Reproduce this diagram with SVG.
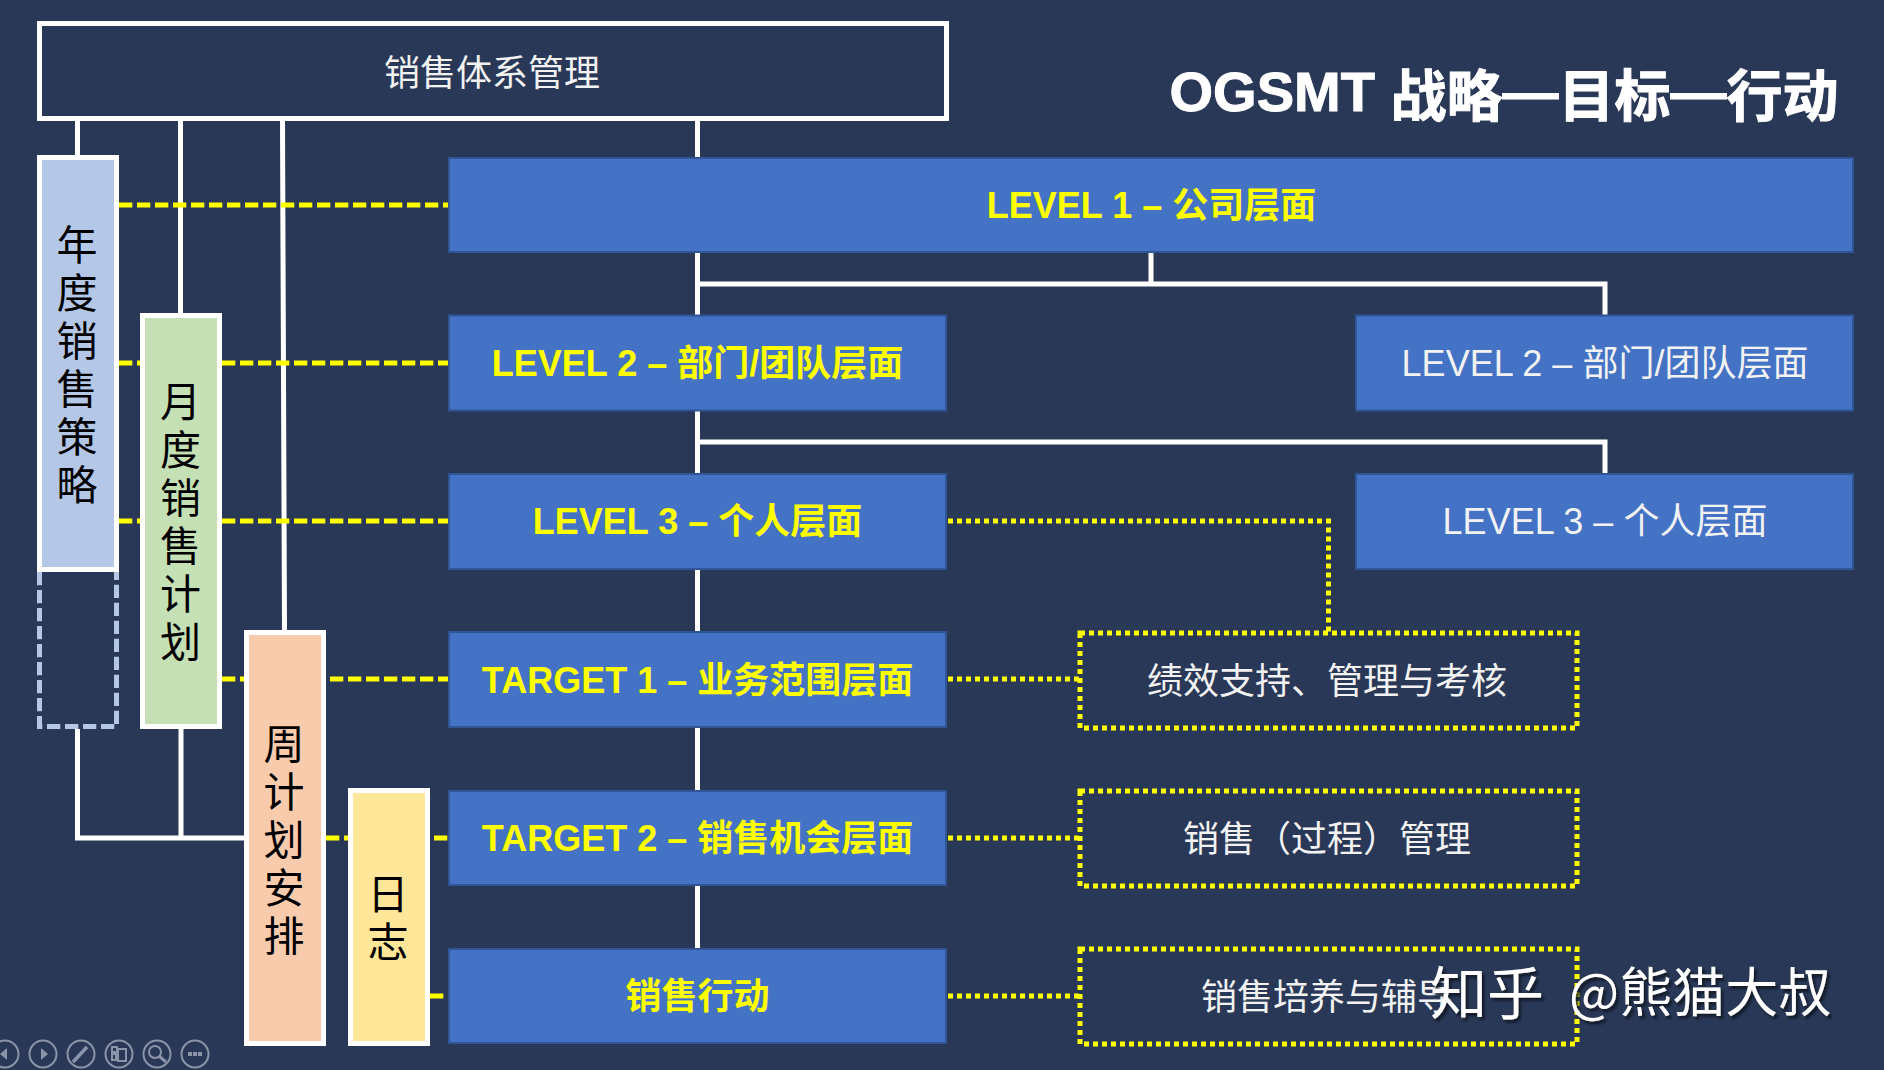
<svg xmlns="http://www.w3.org/2000/svg" width="1884" height="1070" viewBox="0 0 1884 1070">
<style>
text{font-family:"Liberation Sans","Noto Sans CJK SC",sans-serif;text-anchor:middle;dominant-baseline:central}
.cjk{font-family:"Noto Sans CJK SC","Liberation Sans",sans-serif}
.lat{font-family:"Liberation Sans","Noto Sans CJK SC",sans-serif}
.wl{stroke:#fff;stroke-width:5;fill:none}
.yd{stroke:#ff0;stroke-width:5;stroke-dasharray:13.3 4.7;fill:none}
.yo{stroke:#ff0;stroke-width:5;stroke-dasharray:5 4;fill:none}
.lv{fill:#4472C4;stroke:#2F5597;stroke-width:2}
.t-y{font-size:36px;font-weight:700;fill:#ff0}
.t-w{font-size:36px;fill:#f2f2f2}
.side{stroke:#fff;stroke-width:5}
.v{font-size:41px;fill:#000}
.tb{fill:none;stroke:#8b94a8;stroke-width:2}
.tf{fill:#8b94a8}
</style>
<defs><filter id="sh" x="-5%" y="-20%" width="110%" height="140%"><feDropShadow dx="2.5" dy="3" stdDeviation="1.2" flood-color="#0c1220" flood-opacity=".9"/></filter></defs>
<rect width="1884" height="1070" fill="#2A3857"/>
<g id="connectors">
<path class="wl" d="M697.500 121V949M1151 252V284M697.500 284H1605V315M697.500 442H1605V473"/>
<path class="wl" d="M77.500 121V157M180.500 121V315M282.500 121L284.500 632M77.500 729V838H246M181 729V838"/>
<path class="yd" d="M119 205H449M222 363H449M119 363H140M222 521H449M119 521H140M222 679H449M326 838H449M430 996H449"/>
<path class="yo" d="M948 521H1328.500V632M948 679H1080M948 838H1080M948 996H1080"/>
</g>
<g id="top"><rect x="39.500" y="23.500" width="907" height="95" fill="none" stroke="#fff" stroke-width="5"/><text class="cjk" x="492" y="70" font-size="36" fill="#f2f2f2">销售体系管理</text></g>
<g id="title"><text x="1504" y="91" font-size="56" font-weight="700" fill="#fff" stroke="#fff" stroke-width="1">OGSMT <tspan class="cjk">战略</tspan><tspan class="lat">—</tspan><tspan class="cjk">目标</tspan><tspan class="lat">—</tspan><tspan class="cjk">行动</tspan></text></g>
<g id="annual"><rect class="side" x="39.500" y="157.500" width="77" height="412" fill="#B4C7E7"/><path d="M39.500 572V726.500H116.500V572" fill="none" stroke="#B4C7E7" stroke-width="5" stroke-dasharray="13.300 4.700"/>
<text class="cjk v" x="77" y="242">年</text><text class="cjk v" x="77" y="290">度</text><text class="cjk v" x="77" y="338">销</text><text class="cjk v" x="77" y="386">售</text><text class="cjk v" x="77" y="434">策</text><text class="cjk v" x="77" y="482">略</text></g>
<g id="monthly"><rect class="side" x="142.500" y="315.500" width="77" height="411" fill="#C5E0B4"/><text class="cjk v" x="180.500" y="399">月</text><text class="cjk v" x="180.500" y="447">度</text><text class="cjk v" x="180.500" y="495">销</text><text class="cjk v" x="180.500" y="543">售</text><text class="cjk v" x="180.500" y="591">计</text><text class="cjk v" x="180.500" y="639">划</text></g>
<g id="weekly"><rect class="side" x="246.500" y="632.500" width="77" height="411" fill="#F8CBAD"/><text class="cjk v" x="284" y="741">周</text><text class="cjk v" x="284" y="789">计</text><text class="cjk v" x="284" y="837">划</text><text class="cjk v" x="284" y="885">安</text><text class="cjk v" x="284" y="933">排</text></g>
<g id="daily"><rect class="side" x="350.500" y="790.500" width="77" height="253" fill="#FFE699"/><text class="cjk v" x="388" y="891">日</text><text class="cjk v" x="388" y="939">志</text></g>
<g id="l1"><rect class="lv" x="449" y="158" width="1404" height="94"/><text class="t-y" x="1151.500" y="205.500">LEVEL 1 – 公司层面</text></g>
<g id="l2a"><rect class="lv" x="449" y="315.500" width="497" height="95"/><text class="t-y" x="697.500" y="363.500">LEVEL 2 – 部门/团队层面</text></g>
<g id="l2b"><rect class="lv" x="1356" y="315.500" width="497" height="95"/><text class="t-w" x="1605" y="363.500">LEVEL 2 – 部门/团队层面</text></g>
<g id="l3a"><rect class="lv" x="449" y="474" width="497" height="95"/><text class="t-y" x="697.500" y="521.500">LEVEL 3 – 个人层面</text></g>
<g id="l3b"><rect class="lv" x="1356" y="474" width="497" height="95"/><text class="t-w" x="1605" y="521.500">LEVEL 3 – 个人层面</text></g>
<g id="t1"><rect class="lv" x="449" y="632" width="497" height="95"/><text class="t-y" x="697.500" y="680">TARGET 1 – 业务范围层面</text></g>
<g id="t2"><rect class="lv" x="449" y="791" width="497" height="94"/><text class="t-y" x="697.500" y="838.500">TARGET 2 – 销售机会层面</text></g>
<g id="action"><rect class="lv" x="449" y="949" width="497" height="94"/><text class="t-y" x="697.500" y="996.500">销售行动</text></g>
<g id="d1"><rect class="yo" x="1080" y="633" width="497" height="95"/><text class="t-w" x="1327" y="681">绩效支持、管理与考核</text></g>
<g id="d2"><rect class="yo" x="1080" y="791" width="497" height="95"/><text class="t-w" x="1327" y="839">销售（过程）管理</text></g>
<g id="d3"><rect class="yo" x="1080" y="949" width="497" height="95"/><text class="t-w" x="1327" y="997">销售培养与辅导</text></g>
<g id="toolbar">
<circle class="tb" cx="5" cy="1054" r="13.500"/><path class="tf" d="M0 1054l7-6v12z"/>
<circle class="tb" cx="43" cy="1054" r="13.500"/><path class="tf" d="M48 1054l-7-6v12z"/>
<circle class="tb" cx="81" cy="1054" r="13.500"/><path d="M73 1062l14-15" stroke="#8b94a8" stroke-width="3.500"/>
<circle class="tb" cx="119" cy="1054" r="13.500"/><path class="tb" d="M112 1047h5v5h-5zM112 1054h4v6h-4zM118 1049h8v12h-8z"/>
<circle class="tb" cx="157" cy="1054" r="13.500"/><circle class="tb" cx="155" cy="1052" r="6"/><path d="M159 1056l7 6" stroke="#8b94a8" stroke-width="3"/>
<circle class="tb" cx="195" cy="1054" r="13.500"/><path class="tf" d="M188 1052h4v4h-4zM193 1052h4v4h-4zM198 1052h4v4h-4z"/>
</g>
<g id="watermark" filter="url(#sh)"><text class="cjk" x="1430" y="989" font-size="57" fill="#fff" style="text-anchor:start">知乎<tspan x="1569" font-size="53">@熊猫大叔</tspan></text></g>
</svg>
